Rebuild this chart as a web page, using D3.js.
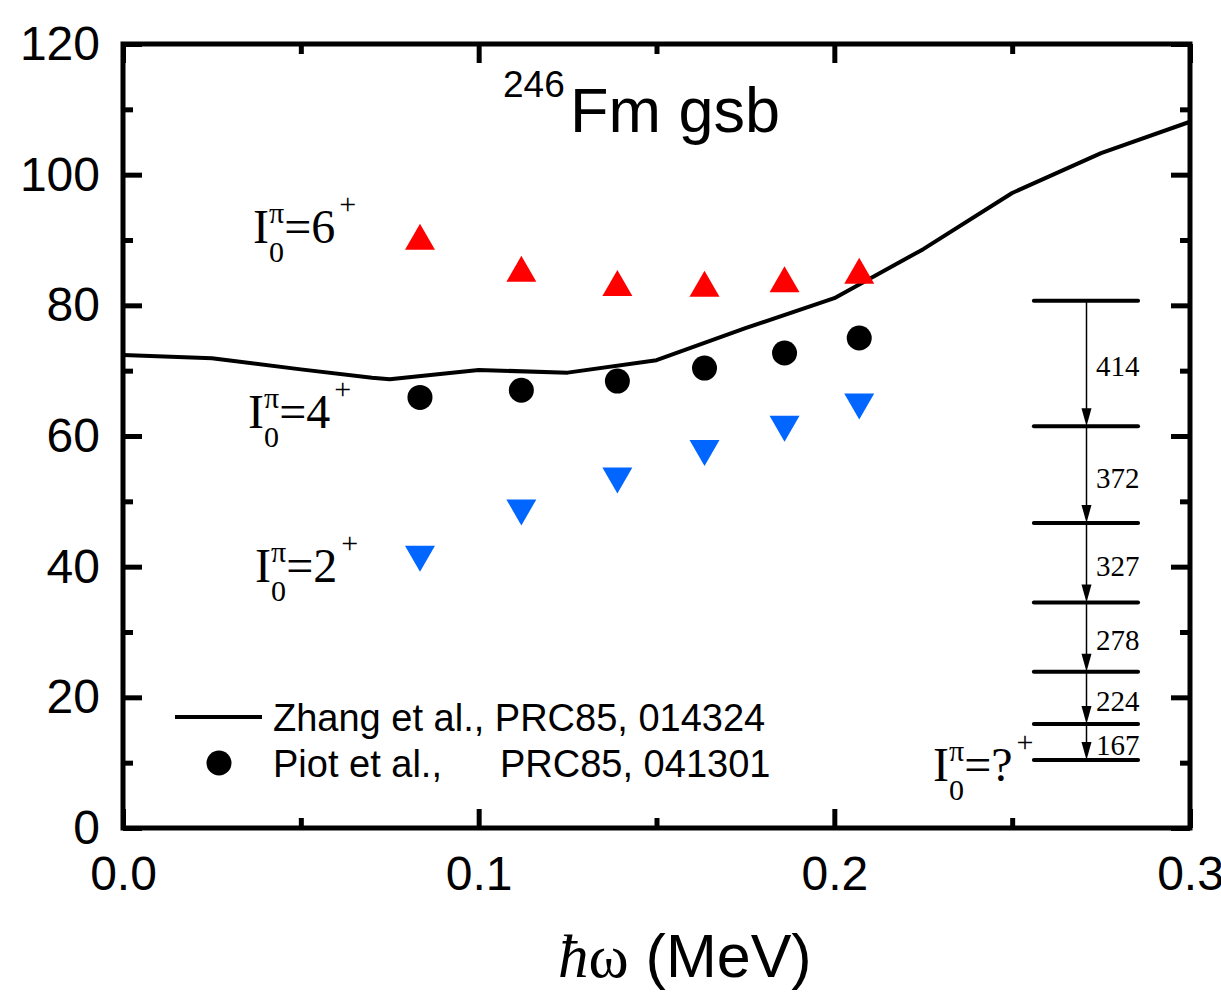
<!DOCTYPE html>
<html>
<head>
<meta charset="utf-8">
<script src="https://cdn.jsdelivr.net/npm/d3@7"></script>
<style>
  body { margin: 0; background: #fff; }
  svg { display: block; }
</style>
</head>
<body>
<svg id="chart" width="1221" height="995"></svg>
<script>
// Rotational frequency (MeV) of the ground-state band transitions
const omega = [0.0835, 0.112, 0.139, 0.1635, 0.186, 0.207];
// Kinematic moment of inertia for three bandhead spin assumptions
const jSpin2 = [41.2, 48.3, 53.2, 57.4, 61.1, 64.5];
const jSpin4 = [65.9, 67.0, 68.4, 70.4, 72.7, 75.0];
const jSpin6 = [90.5, 85.6, 83.4, 83.3, 84.0, 85.3];
// Calculation (Zhang et al.)
const theoryOmega = [0, 0.025, 0.05, 0.07, 0.075, 0.1, 0.125, 0.15, 0.175, 0.2, 0.225, 0.25, 0.275, 0.3];
const theoryJ     = [72.4, 71.9, 70.2, 68.9, 68.7, 70.1, 69.7, 71.6, 76.5, 81.1, 88.6, 97.2, 103.3, 108.1];
// Level scheme: level heights (axis units) and gamma energies (keV)
const levelHeights = [10.4, 15.9, 23.9, 34.5, 46.7, 61.5, 80.7];
const gammaLabels = ["167", "224", "278", "327", "372", "414"];
// Axis ticks
const yMajor = [0, 20, 40, 60, 80, 100, 120];
const yMinor = [10, 30, 50, 70, 90, 110];
const xMajor = [0, 0.1, 0.2, 0.3];
const xMinor = [0.05, 0.15, 0.25];

const SANS = "'Liberation Sans', Arial, sans-serif";
const SERIF = "'Liberation Serif', 'Times New Roman', serif";

const svg = d3.select('#chart');
const x = d3.scaleLinear().domain([0, 0.3]).range([123, 1190]);
const y = d3.scaleLinear().domain([0, 120]).range([828, 44]);

const axisStyle = g => {
  g.select('.domain').remove();
  g.selectAll('.tick line').attr('stroke', '#000').attr('stroke-width', 5);
  g.selectAll('text').attr('font-family', SANS).attr('font-size', 48).attr('fill', '#000');
};

// Left axis with labels
svg.append('g').attr('transform', `translate(${x(0)},0)`)
  .call(d3.axisLeft(y).tickValues(yMajor).tickSizeInner(-19).tickSizeOuter(0).tickPadding(23).tickFormat(d3.format('d')))
  .call(axisStyle);
svg.append('g').attr('transform', `translate(${x(0)},0)`)
  .call(d3.axisLeft(y).tickValues(yMinor).tickSizeInner(-10).tickSizeOuter(0).tickFormat(''))
  .call(axisStyle);
// Right axis mirror ticks
svg.append('g').attr('transform', `translate(${x(0.3)},0)`)
  .call(d3.axisRight(y).tickValues(yMajor).tickSizeInner(-19).tickSizeOuter(0).tickFormat(''))
  .call(axisStyle);
svg.append('g').attr('transform', `translate(${x(0.3)},0)`)
  .call(d3.axisRight(y).tickValues(yMinor).tickSizeInner(-10).tickSizeOuter(0).tickFormat(''))
  .call(axisStyle);
// Bottom axis with labels
svg.append('g').attr('transform', `translate(0,${y(0)})`)
  .call(d3.axisBottom(x).tickValues(xMajor).tickSizeInner(-19).tickSizeOuter(0).tickPadding(28).tickFormat(d3.format('.1f')))
  .call(axisStyle);
svg.append('g').attr('transform', `translate(0,${y(0)})`)
  .call(d3.axisBottom(x).tickValues(xMinor).tickSizeInner(-10).tickSizeOuter(0).tickFormat(''))
  .call(axisStyle);
// Top axis mirror ticks
svg.append('g').attr('transform', `translate(0,${y(120)})`)
  .call(d3.axisTop(x).tickValues(xMajor).tickSizeInner(-19).tickSizeOuter(0).tickFormat(''))
  .call(axisStyle);
svg.append('g').attr('transform', `translate(0,${y(120)})`)
  .call(d3.axisTop(x).tickValues(xMinor).tickSizeInner(-10).tickSizeOuter(0).tickFormat(''))
  .call(axisStyle);

// Frame
svg.append('rect')
  .attr('x', x(0)).attr('y', y(120))
  .attr('width', x(0.3) - x(0)).attr('height', y(0) - y(120))
  .attr('fill', 'none').attr('stroke', '#000').attr('stroke-width', 5);

// Theory curve
const theory = theoryOmega.map((w, i) => [w, theoryJ[i]]);
svg.append('path')
  .datum(theory)
  .attr('d', d3.line().x(d => x(d[0])).y(d => y(d[1])))
  .attr('fill', 'none').attr('stroke', '#000').attr('stroke-width', 4)
  .attr('stroke-linejoin', 'round');

// Markers
const triUp = (cx, cy) => `M${cx},${cy - 13}L${cx + 15},${cy + 13}L${cx - 15},${cy + 13}Z`;
const triDown = (cx, cy) => `M${cx - 15},${cy - 13}L${cx + 15},${cy - 13}L${cx},${cy + 13}Z`;

svg.append('g').selectAll('path')
  .data(omega.map((w, i) => [w, jSpin6[i]]))
  .join('path')
  .attr('d', d => triUp(x(d[0]), y(d[1])))
  .attr('fill', '#ff0000');

svg.append('g').selectAll('path')
  .data(omega.map((w, i) => [w, jSpin2[i]]))
  .join('path')
  .attr('d', d => triDown(x(d[0]), y(d[1])))
  .attr('fill', '#0066ff');

svg.append('g').selectAll('circle')
  .data(omega.map((w, i) => [w, jSpin4[i]]))
  .join('circle')
  .attr('cx', d => x(d[0])).attr('cy', d => y(d[1])).attr('r', 12.5)
  .attr('fill', '#000');

// Title
const title = svg.append('text').attr('font-family', SANS).attr('fill', '#000');
title.append('tspan').attr('x', 503).attr('y', 97).attr('font-size', 37).text('246');
title.append('tspan').attr('x', 570).attr('y', 132).attr('font-size', 63).text('Fm gsb');

// Spin labels I0^pi = n^+
function spinLabel(px, py, spin) {
  const t = svg.append('text').attr('x', px).attr('y', py)
    .attr('font-family', SERIF).attr('font-size', 48).attr('fill', '#000');
  t.append('tspan').text('I');
  t.append('tspan').attr('font-size', 30).attr('dy', 19).text('0');
  t.append('tspan').attr('font-size', 30).attr('dx', -15).attr('dy', -39).text('π');
  t.append('tspan').attr('dy', 20).text('=' + spin);
  t.append('tspan').attr('font-size', 30).attr('dx', 4).attr('dy', -29).text('+');
}
spinLabel(253, 243, '6');
spinLabel(248, 428, '4');
spinLabel(255, 582, '2');
spinLabel(933, 781, '?');

// Level scheme
const levelX0 = 0.2561, levelX1 = 0.2854, arrowX = 0.2709;
svg.append('g').selectAll('line')
  .data(levelHeights)
  .join('line')
  .attr('x1', x(levelX0)).attr('x2', x(levelX1))
  .attr('y1', d => y(d)).attr('y2', d => y(d))
  .attr('stroke', '#000').attr('stroke-width', 4).attr('stroke-linecap', 'round');

const transitions = gammaLabels.map((e, i) => ({ e, from: levelHeights[i + 1], to: levelHeights[i] }));
const ax = x(arrowX);
const tg = svg.append('g');
transitions.forEach(t => {
  const y0 = y(t.from), y1 = y(t.to);
  tg.append('line')
    .attr('x1', ax).attr('x2', ax).attr('y1', y0).attr('y2', y1 - 16)
    .attr('stroke', '#000').attr('stroke-width', 1.5);
  tg.append('path')
    .attr('d', `M${ax - 5},${y1 - 18}L${ax + 5},${y1 - 18}L${ax},${y1}Z`)
    .attr('fill', '#000');
  tg.append('text')
    .attr('x', 1096).attr('y', (y0 + y1) / 2 + 13)
    .attr('font-family', SERIF).attr('font-size', 29).attr('fill', '#000')
    .text(t.e);
});

// Legend
svg.append('line').attr('x1', 175).attr('x2', 262).attr('y1', 717).attr('y2', 717)
  .attr('stroke', '#000').attr('stroke-width', 4);
svg.append('circle').attr('cx', 219).attr('cy', 763).attr('r', 12.5).attr('fill', '#000');
svg.append('text').attr('x', 273).attr('y', 731)
  .attr('font-family', SANS).attr('font-size', 38).attr('fill', '#000')
  .text('Zhang et al., PRC85, 014324');
svg.append('text').attr('x', 273).attr('y', 777)
  .attr('font-family', SANS).attr('font-size', 38).attr('fill', '#000')
  .text('Piot et al.,');
svg.append('text').attr('x', 500).attr('y', 777)
  .attr('font-family', SANS).attr('font-size', 38).attr('fill', '#000')
  .text('PRC85, 041301');

// X axis title
const xt = svg.append('text').attr('x', 558).attr('y', 977).attr('fill', '#000');
xt.append('tspan').attr('font-family', SERIF).attr('font-style', 'italic').attr('font-size', 61).text('ħ');
xt.append('tspan').attr('font-family', SERIF).attr('font-size', 61).text('ω');
xt.append('tspan').attr('font-family', SANS).attr('font-size', 61).text(' (MeV)');
</script>
</body>
</html>
